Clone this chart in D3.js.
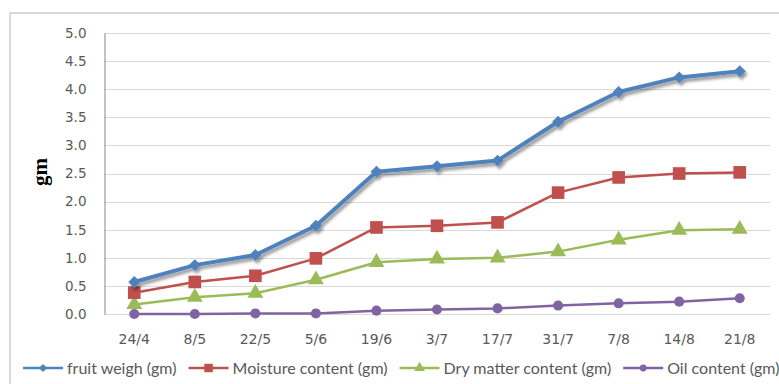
<!DOCTYPE html>
<html>
<head>
<meta charset="utf-8">
<script src="https://cdn.jsdelivr.net/npm/d3@7.9.0/dist/d3.min.js"></script>
<style>
  body { margin: 0; background: #fff; }
  svg { display: block; }
</style>
</head>
<body>
<svg id="chart" width="779" height="384"></svg>
<script>
// dates sampled
const dates = ['24/4', '8/5', '22/5', '5/6', '19/6', '3/7', '17/7', '31/7', '7/8', '14/8', '21/8'];

const fruitWeight = [0.57, 0.87, 1.05, 1.57, 2.53, 2.63, 2.73, 3.42, 3.95, 4.21, 4.32];
const moisture = [0.38, 0.57, 0.68, 0.99, 1.54, 1.57, 1.63, 2.16, 2.43, 2.50, 2.52];
const dryMatter = [0.17, 0.30, 0.37, 0.61, 0.92, 0.98, 1.00, 1.11, 1.32, 1.49, 1.51];
const oil = [0.0, 0.0, 0.01, 0.01, 0.06, 0.08, 0.10, 0.15, 0.19, 0.22, 0.28];

const yTicks = [0, 0.5, 1, 1.5, 2, 2.5, 3, 3.5, 4, 4.5, 5];

const series = [
  { name: 'fruit weigh (gm)', values: fruitWeight, color: '#4f81bd', width: 4, symbol: d3.symbolDiamond2, size: 90, shadow: true },
  { name: 'Moisture content (gm)', values: moisture, color: '#c0504d', width: 2.5, symbol: d3.symbolSquare, size: 160 },
  { name: 'Dry matter content (gm)', values: dryMatter, color: '#9bbb59', width: 2.5, symbol: d3.symbolTriangle, size: 110 },
  { name: 'Oil content (gm)', values: oil, color: '#8064a2', width: 2.5, symbol: d3.symbolCircle, size: 80 }
];

const svg = d3.select('#chart');

const defs = svg.append('defs');
defs.append('filter').attr('id', 'shadow')
  .attr('x', '-10%').attr('y', '-10%').attr('width', '130%').attr('height', '140%')
  .append('feDropShadow')
  .attr('dx', 2).attr('dy', 3).attr('stdDeviation', 1.8)
  .attr('flood-color', '#000').attr('flood-opacity', 0.4);

// outer chart frame (right/bottom edges fall outside the picture)
svg.append('rect')
  .attr('x', 10).attr('y', 13)
  .attr('width', 800).attr('height', 400)
  .attr('fill', 'none').attr('stroke', '#d9d9d9').attr('stroke-width', 2);

const plotLeft = 104, plotRight = 770, plotTop = 33, plotBottom = 314;

const x = d3.scaleBand().domain(dates).range([plotLeft, plotRight]);
const y = d3.scaleLinear().domain([0, 5]).range([plotBottom, plotTop]);

// gridlines
svg.append('g')
  .selectAll('line')
  .data(yTicks)
  .join('line')
  .attr('x1', plotLeft).attr('x2', plotRight)
  .attr('y1', d => Math.round(y(d)) + 0.5).attr('y2', d => Math.round(y(d)) + 0.5)
  .attr('stroke', '#d9d9d9').attr('stroke-width', 1);

// y axis
const yAxis = svg.append('g')
  .attr('transform', `translate(${plotLeft + 0.5},0)`)
  .call(d3.axisLeft(y).tickValues(yTicks).tickFormat(d3.format('.1f')).tickSize(0).tickPadding(18));
yAxis.select('.domain').attr('stroke', '#868686');
yAxis.selectAll('text')
  .attr('font-family', 'DejaVu Sans').attr('font-size', 13.5).attr('fill', '#595959');

// x axis labels
const xAxis = svg.append('g')
  .attr('transform', `translate(0,${plotBottom})`)
  .call(d3.axisBottom(x).tickSize(0).tickPadding(20));
xAxis.select('.domain').remove();
xAxis.selectAll('text')
  .attr('font-family', 'DejaVu Sans').attr('font-size', 14).attr('fill', '#595959');

// y title
svg.append('text')
  .attr('transform', 'translate(47,172) rotate(-90)')
  .attr('text-anchor', 'middle')
  .attr('font-family', 'Liberation Serif').attr('font-weight', 'bold')
  .attr('font-size', 21).attr('fill', '#000')
  .text('gm');

const line = d3.line()
  .x((d, i) => x(dates[i]) + x.bandwidth() / 2)
  .y(d => y(d));

// draw back to front so blue sits on top
series.slice().reverse().forEach(s => {
  const g = svg.append('g');
  if (s.shadow) g.attr('filter', 'url(#shadow)');
  g.append('path')
    .attr('d', line(s.values))
    .attr('fill', 'none')
    .attr('stroke', s.color)
    .attr('stroke-width', s.width)
    .attr('stroke-linejoin', 'round');
  g.selectAll('path.mark')
    .data(s.values)
    .join('path')
    .attr('class', 'mark')
    .attr('transform', (d, i) => `translate(${x(dates[i]) + x.bandwidth() / 2},${y(d)})`)
    .attr('d', d3.symbol().type(s.symbol).size(s.size))
    .attr('fill', s.color);
});

// legend
const legend = svg.append('g').attr('transform', 'translate(23,368)');
let lx = 0;
series.forEach(s => {
  const item = legend.append('g').attr('transform', `translate(${lx},0)`);
  item.append('line')
    .attr('x1', 0).attr('x2', 40)
    .attr('stroke', s.color).attr('stroke-width', 2.5);
  item.append('path')
    .attr('transform', 'translate(20,0)')
    .attr('d', d3.symbol().type(s.symbol).size(s.size * 0.45))
    .attr('fill', s.color);
  const t = item.append('text')
    .attr('x', 44).attr('dy', '0.35em')
    .attr('font-family', 'Lato').attr('font-size', 16).attr('fill', '#595959')
    .text(s.name);
  lx += 44 + t.node().getComputedTextLength() + 12;
});
</script>
</body>
</html>
